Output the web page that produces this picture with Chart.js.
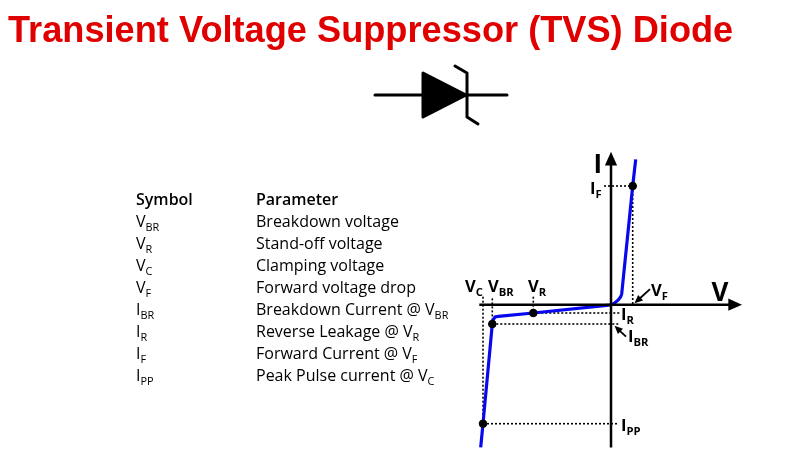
<!DOCTYPE html>
<html><head><meta charset="utf-8">
<style>html,body{margin:0;padding:0;background:#fff}canvas{display:block}</style>
<script src="https://cdn.jsdelivr.net/npm/chart.js@4"></script></head>
<body><canvas id="c" width="799" height="459"></canvas>
<script>
const titleText = "Transient Voltage Suppressor (TVS) Diode";
const tableHeader = ["Symbol", "Parameter"];
const symbols = [["V","BR"],["V","R"],["V","C"],["V","F"],["I","BR"],["I","R"],["I","F"],["I","PP"]];
const parameters = [
  ["Breakdown voltage"],["Stand-off voltage"],["Clamping voltage"],["Forward voltage drop"],
  ["Breakdown Current @ V","BR"],["Reverse Leakage @ V","R"],["Forward Current @ V","F"],["Peak Pulse current @ V","C"]];
// I-V curve (arbitrary units)
const curveV = [-130.3,-128,-118.7,-118,-116,-112.7,-77.7,-4.3,-1,3,7.3,9.7,10.7,21.7,24.7];
const curveI = [-142.7,-119,-19.3,-15.3,-12.3,-11.7,-8.3,-0.7,-0.3,1.3,4.7,8,10.7,118.7,145.3];
const markerV = [-128,-118.7,-77.7,21.7];
const markerI = [-119,-19.3,-8.3,118.7];
const axisVRange = [-131.7,124];
const axisIRange = [-142.7,148];
const guides = [
  [[-7,118.7],[21.7,118.7]],[[21.7,118.7],[21.7,0]],
  [[-128,8],[-128,-119]],[[-118.7,6.3],[-118.7,-19.3]],[[-77.7,8],[-77.7,-8.3]],
  [[-77.7,-8.3],[9,-8.3]],[[-118.7,-19.3],[9,-19.3]],[[-128,-119],[7,-119]]];
const pairs = (xs,ys)=>xs.map((x,i)=>({x,y:ys[i]}));

const SANS = '"Open Sans","Noto Sans",sans-serif';
function sub(ctx,x,y,main,s,size,weight){
  ctx.font = `${weight} ${size}px ${SANS}`;
  ctx.textAlign='left'; ctx.textBaseline='alphabetic';
  ctx.fillText(main,x,y);
  if(s){
    const w=ctx.measureText(main).width;
    ctx.font = `${weight} ${size*0.68}px ${SANS}`;
    ctx.fillText(s,x+w,y+size*0.24);
  }
}
function arrow(ctx,x1,y1,x2,y2,head,lw){
  const a=Math.atan2(y2-y1,x2-x1);
  ctx.lineWidth=lw;
  ctx.beginPath();ctx.moveTo(x1,y1);ctx.lineTo(x2-Math.cos(a)*head*.7,y2-Math.sin(a)*head*.7);ctx.stroke();
  ctx.beginPath();ctx.moveTo(x2,y2);
  ctx.lineTo(x2-head*Math.cos(a-0.42),y2-head*Math.sin(a-0.42));
  ctx.lineTo(x2-head*Math.cos(a+0.42),y2-head*Math.sin(a+0.42));
  ctx.closePath();ctx.fill();
}
const decor = {
  id:'decor',
  afterDatasetsDraw(chart){
    const ctx=chart.ctx, X=chart.scales.x, Y=chart.scales.y;
    const px=v=>X.getPixelForValue(v), py=v=>Y.getPixelForValue(v);
    ctx.save();
    ctx.fillStyle='#000';ctx.strokeStyle='#000';ctx.lineCap='butt';
    // axis arrowheads
    arrow(ctx,px(axisVRange[1]),py(0),px(131),py(0),15,2.5);
    arrow(ctx,px(0),py(axisIRange[1]),px(0),py(153),15,2.5);
    // callouts
    arrow(ctx,px(39),py(15.5),px(23.5),py(1.5),9,1.8);
    arrow(ctx,px(15),py(-32),px(3.5),py(-21),9,1.8);
    // curve labels
    const lab=(v,i,m,s,size=16.5)=>sub(ctx,px(v),py(i),m,s,size,700);
    lab(-146,12.5,'V','C');lab(-123,12.5,'V','BR');lab(-83,12.5,'V','R');
    lab(40,8.5,'V','F');lab(10,-15,'I','R');lab(17,-37,'I','BR');
    lab(-21,111,'I','F');lab(10,-126,'I','PP');
    sub(ctx,px(-17.5),py(132),'I',null,26,700);
    sub(ctx,px(100.5),py(4),'V',null,26,700);
    // table
    const xS=136,xP=256,top=205,dy=22;
    sub(ctx,xS,top,tableHeader[0],null,16,600);
    sub(ctx,xP,top,tableHeader[1],null,16,600);
    symbols.forEach((s,i)=>{
      sub(ctx,xS,top+dy*(i+1),s[0],s[1],16,400);
      sub(ctx,xP,top+dy*(i+1),parameters[i][0],parameters[i][1],16,400);
    });
    // diode symbol
    ctx.lineWidth=3;ctx.lineCap='round';ctx.lineJoin='round';
    ctx.beginPath();ctx.moveTo(375,95);ctx.lineTo(507,95);ctx.stroke();
    ctx.beginPath();ctx.moveTo(423,73);ctx.lineTo(466,95);ctx.lineTo(423,117);ctx.closePath();ctx.fill();ctx.stroke();
    ctx.beginPath();ctx.moveTo(455,66);ctx.lineTo(467,73);ctx.lineTo(467,117);ctx.lineTo(478,124);ctx.stroke();
    ctx.restore();
  }
};
const whiteBg={id:'whiteBg',beforeDraw(c){c.ctx.save();c.ctx.fillStyle='#fff';c.ctx.fillRect(0,0,c.width,c.height);c.ctx.restore();}};
const line=(data,color,width,dash)=>({type:'line',data,borderColor:color,borderWidth:width,borderDash:dash||[],pointRadius:0,fill:false,tension:0,order:dash?3:2});
const chart=new Chart(document.getElementById('c'),{
  type:'scatter',
  data:{datasets:[
    ...guides.map(g=>line(g.map(p=>({x:p[0],y:p[1]})),'#000',1.6,[2,2])),
    line([{x:axisVRange[0],y:0},{x:axisVRange[1],y:0}],'#000',2.5),
    line([{x:0,y:axisIRange[0]},{x:0,y:axisIRange[1]}],'#000',2.5),
    line(pairs(curveV,curveI),'#0808ee',3.2),
    {data:pairs(markerV,markerI),backgroundColor:'#000',borderColor:'#000',pointRadius:3.8,order:1}
  ]},
  options:{
    responsive:false,animation:false,events:[],
    layout:{padding:{left:8,right:0,top:0,bottom:0}},
    plugins:{legend:{display:false},tooltip:{enabled:false},
      title:{display:true,text:titleText,align:'start',color:'#e00000',
        font:{family:'"Liberation Sans",Arial,sans-serif',size:36.2,weight:'bold',lineHeight:1.2},
        padding:{top:10,bottom:0}}},
    scales:{
      x:{type:'linear',display:false,min:-600,max:188},
      y:{type:'linear',display:false,min:-154,max:250}
    }
  },
  plugins:[whiteBg,decor]
});
// one data unit = one canvas pixel, with the origin where the axes cross
const originX=611, originY=304.7, area=chart.chartArea;
chart.options.scales.x.min=area.left-originX; chart.options.scales.x.max=area.right-originX;
chart.options.scales.y.min=originY-area.bottom; chart.options.scales.y.max=originY-area.top;
chart.update();
</script></body></html>
